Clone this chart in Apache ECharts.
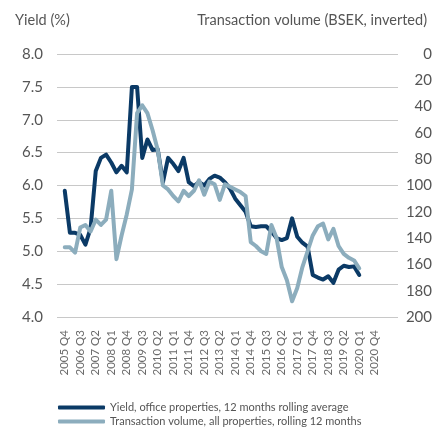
<!DOCTYPE html>
<html>
<head>
<meta charset="utf-8">
<script src="https://cdn.jsdelivr.net/npm/echarts@6/dist/echarts.min.js"></script>
<style>
  html, body { margin: 0; padding: 0; background: #fff; }
  #chart { width: 435px; height: 432px; }
</style>
</head>
<body>
<div id="chart"></div>
<script>
// quarters 2005 Q4 .. 2020 Q4
var quarters = [];
for (var y = 2005; y <= 2020; y++) {
  for (var q = 1; q <= 4; q++) {
    if (y === 2005 && q < 4) continue;
    quarters.push(y + ' Q' + q);
  }
}

// yield, office properties (%), 2005 Q4 .. 2020 Q1
var yieldOffice = [
  5.92, 5.28, 5.28, 5.25, 5.10, 5.35, 6.22, 6.42, 6.47, 6.35,
  6.20, 6.30, 6.20, 7.50, 7.50, 6.42, 6.70, 6.54, 6.55, 6.05,
  6.42, 6.33, 6.22, 6.42, 6.05, 5.99, 6.05, 6.00, 6.10, 6.15,
  6.12, 6.05, 5.95, 5.80, 5.70, 5.60, 5.38, 5.37, 5.38, 5.38,
  5.30, 5.20, 5.17, 5.20, 5.50, 5.22, 5.13, 5.07, 4.64, 4.60,
  4.57, 4.62, 4.52, 4.72, 4.78, 4.76, 4.77, 4.64
];

// transaction volume, all properties (BSEK), 2005 Q4 .. 2020 Q1
var volumeAll = [
  147, 147, 151, 132, 130, 135, 126, 130, 126, 104,
  156, 138, 122, 103, 45, 39, 45, 58, 73, 100,
  103, 108, 112, 104, 108, 104, 96, 107, 97, 99,
  111, 99, 101, 103, 105, 108, 143, 146, 150, 152,
  130, 140, 162, 172, 188, 178, 162, 150, 138, 131,
  129, 141, 133, 146, 152, 155, 157, 163
];

var yieldTicks = { min: 4, max: 8, step: 0.5 };
var volumeTicks = { min: 0, max: 200, step: 20 };

var axisData = [''].concat(quarters, ['', '', '', '']);
var fontFam = 'Lato, "Open Sans", sans-serif';
var textColor = '#555555';

var chart = echarts.init(document.getElementById('chart'));
chart.setOption({
  animation: false,
  textStyle: { fontFamily: fontFam },
  title: [
    { text: 'Yield (%)', left: 10, top: 8,
      textStyle: { fontSize: 14.5, fontWeight: 'normal', color: textColor, fontFamily: fontFam } },
    { text: 'Transaction volume (BSEK, inverted)', right: 3, top: 8,
      textStyle: { fontSize: 14.5, fontWeight: 'normal', color: textColor, fontFamily: fontFam } }
  ],
  grid: { left: 57, right: 37, top: 54, bottom: 115, outerBoundsMode: 'none' },
  legend: {
    orient: 'vertical',
    left: 53,
    top: 397,
    itemGap: 3,
    itemWidth: 47,
    itemHeight: 4,
    icon: 'roundRect',
    data: ['Yield, office properties, 12 months rolling average',
           'Transaction volume, all properties, rolling 12 months'],
    textStyle: { fontSize: 11, color: textColor, fontFamily: fontFam }
  },
  xAxis: {
    type: 'category',
    data: axisData,
    boundaryGap: true,
    axisLine: { show: false },
    axisTick: { show: false },
    axisLabel: {
      rotate: 90,
      margin: 13,
      fontSize: 11.5,
      color: '#6a6a6a',
      fontFamily: fontFam,
      interval: function (idx) { return idx >= 1 && (idx - 1) % 3 === 0; }
    }
  },
  yAxis: [
    {
      type: 'value',
      min: yieldTicks.min,
      max: yieldTicks.max,
      interval: yieldTicks.step,
      axisLine: { show: false },
      axisTick: { show: false },
      splitLine: { lineStyle: { color: '#c8c8c8', width: 1 } },
      axisLabel: {
        margin: 14,
        fontSize: 15,
        color: textColor,
        fontFamily: fontFam,
        formatter: function (v) { return v.toFixed(1); }
      }
    },
    {
      type: 'value',
      inverse: true,
      min: volumeTicks.min,
      max: volumeTicks.max,
      interval: volumeTicks.step,
      position: 'right',
      axisLine: { show: false },
      axisTick: { show: false },
      splitLine: { show: false },
      axisLabel: {
        margin: 34,
        align: 'right',
        fontSize: 15,
        color: textColor,
        fontFamily: fontFam
      }
    }
  ],
  series: [
    {
      name: 'Yield, office properties, 12 months rolling average',
      type: 'line',
      yAxisIndex: 0,
      data: [null].concat(yieldOffice),
      symbol: 'none',
      itemStyle: { color: '#0b3a66' },
      lineStyle: { color: '#0b3a66', width: 4, join: 'round', cap: 'round' },
      z: 2
    },
    {
      name: 'Transaction volume, all properties, rolling 12 months',
      type: 'line',
      yAxisIndex: 1,
      data: [null].concat(volumeAll),
      symbol: 'none',
      itemStyle: { color: '#8cadbd' },
      lineStyle: { color: '#8cadbd', width: 4, join: 'round', cap: 'round' },
      z: 3
    }
  ]
});
</script>
</body>
</html>
